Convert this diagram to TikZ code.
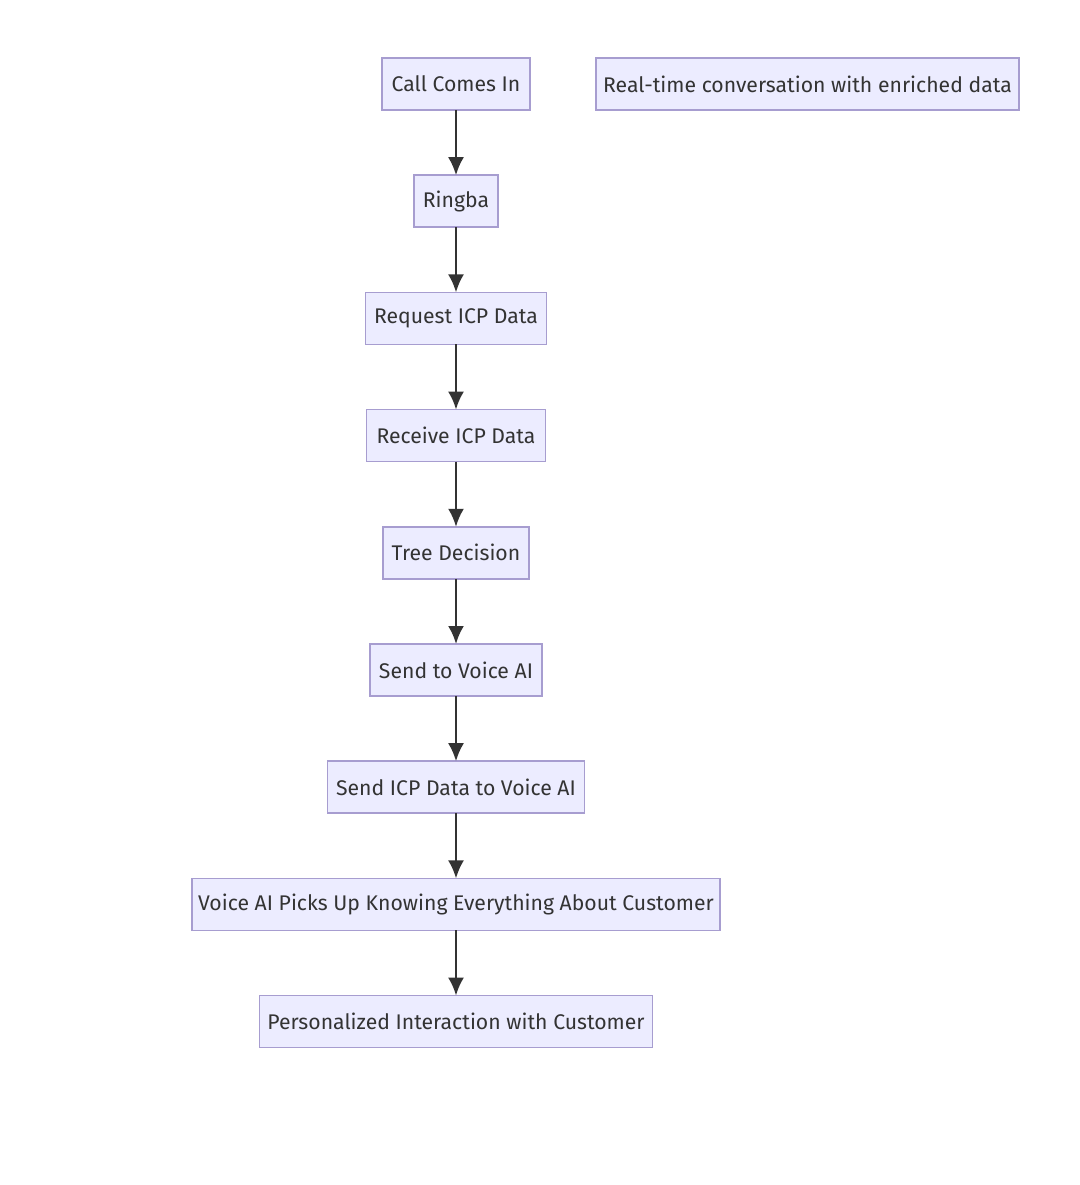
\documentclass[tikz,border=0pt]{standalone}
\usepackage{fontspec}
\setmainfont{Fira Sans}
\usetikzlibrary{arrows.meta}
\usetikzlibrary{positioning}
\definecolor{mfill}{HTML}{ECECFF}
\definecolor{mline}{HTML}{A79DD0}
\definecolor{mdark}{HTML}{333333}
\tikzset{stepbox/.style = {draw=mline, fill=mfill, line width=0.8pt,
                           minimum height=26pt, inner xsep=3pt, outer sep=0pt,
                           text=mdark, font=\fontsize{10.6}{12}\selectfont}}
\tikzset{flow/.style = {draw=mdark, line width=1.2pt,
                        -{Latex[length=9pt,width=8pt]}}}
\begin{document}
\begin{tikzpicture}[node distance=32.6pt]
      \useasboundingbox [fill=white] (0pt, 0pt) rectangle (540pt, -592.5pt);
      \node [stepbox, minimum width=74pt] (call) at (228pt, -42pt) {Call Comes In};
      \node [stepbox, minimum width=211.5pt] (realtime) at (403.75pt, -42pt) {Real-time conversation with enriched data};
      \node [stepbox, minimum width=42pt, below=of call] (ringba) {Ringba};
      \node [stepbox, minimum width=90.5pt, below=of ringba] (request) {Request ICP Data};
      \node [stepbox, minimum width=89.5pt, below=of request] (receive) {Receive ICP Data};
      \node [stepbox, minimum width=73pt, below=of receive] (tree) {Tree Decision};
      \node [stepbox, minimum width=86pt, below=of tree] (sendvoice) {Send to Voice AI};
      \node [stepbox, minimum width=128.5pt, below=of sendvoice] (senddata) {Send ICP Data to Voice AI};
      \node [stepbox, minimum width=263pt, below=of senddata] (pickup) {Voice AI Picks Up Knowing Everything About Customer};
      \node [stepbox, minimum width=196.5pt, below=of pickup] (personal) {Personalized Interaction with Customer};
      \draw [flow] (call) -- (ringba);
      \draw [flow] (ringba) -- (request);
      \draw [flow] (request) -- (receive);
      \draw [flow] (receive) -- (tree);
      \draw [flow] (tree) -- (sendvoice);
      \draw [flow] (sendvoice) -- (senddata);
      \draw [flow] (senddata) -- (pickup);
      \draw [flow] (pickup) -- (personal);
    \end{tikzpicture}
\end{document}
